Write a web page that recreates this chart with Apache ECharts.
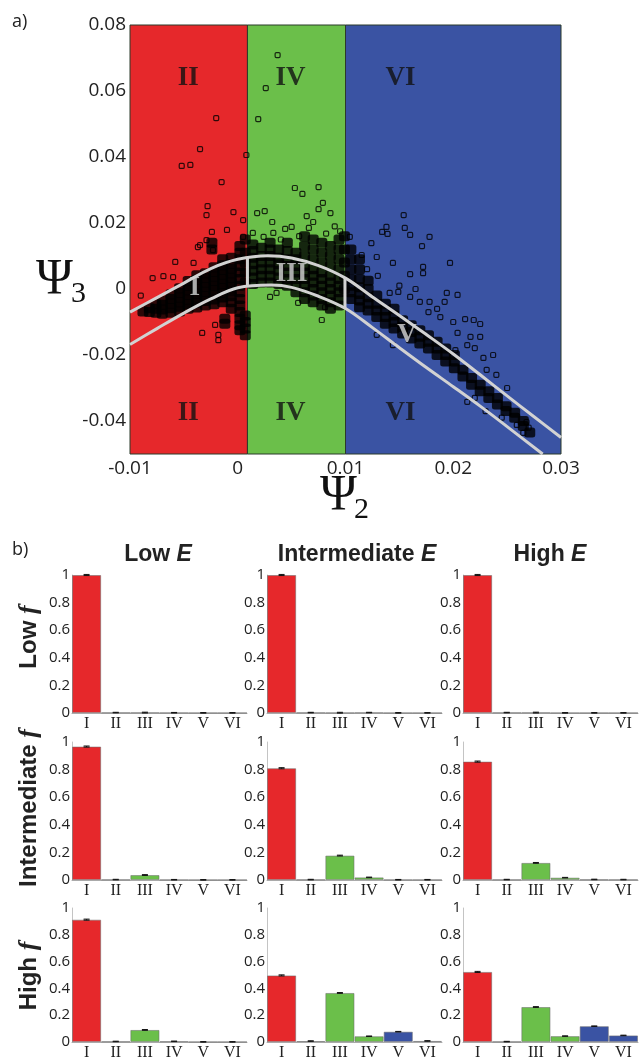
<!DOCTYPE html>
<html>
<head>
<meta charset="utf-8">
<script src="https://cdn.jsdelivr.net/npm/echarts@6/dist/echarts.min.js"></script>
<style>
html, body { margin: 0; padding: 0; background: #fff; }
#main { width: 639px; height: 1061px; }
</style>
</head>
<body>
<div id="main"></div>
<script>
// ---------- panel a) data ----------
const regionSpans = [[-0.01, 0.0009], [0.0009, 0.01], [0.01, 0.03]];

const upperCurve = [[-0.01,-0.0070],[-0.0075,-0.0026],[-0.005,0.0018],[-0.0025,0.0062],[0,0.0090],
  [0.0028,0.0101],[0.005,0.0094],[0.0075,0.0071],[0.01,0.0033],[0.0125,-0.0024],[0.015,-0.0080],
  [0.0175,-0.0138],[0.02,-0.0197],[0.0225,-0.0260],[0.025,-0.0324],[0.0275,-0.0387],[0.03,-0.0450]];
const lowerCurve = [[-0.01,-0.0168],[-0.0075,-0.0120],[-0.005,-0.0073],[-0.0025,-0.0030],[0,0.0004],
  [0.0031,0.0012],[0.005,0.0005],[0.0075,-0.0022],[0.01,-0.0059],[0.0125,-0.0117],[0.015,-0.0178],
  [0.0175,-0.0238],[0.02,-0.0296],[0.0225,-0.0355],[0.025,-0.0417],[0.0283,-0.0500]];
const dividerI_III = [[0.0009,0.0008],[0.0009,0.0095]];
const dividerIII_V = [[0.00995,-0.0058],[0.00995,0.0034]];

// dense cloud, read column by column: [psi2, [psi3 values]]
const coreColumns = [
  [-0.0088, [-0.0068]],
  [-0.0082, [-0.0070,-0.0058]],
  [-0.0076, [-0.0072,-0.0060,-0.0046]],
  [-0.0070, [-0.0075,-0.0062,-0.0048,-0.0035]],
  [-0.0062, [-0.0072,-0.0058,-0.0044,-0.0030,-0.0016]],
  [-0.0054, [-0.0068,-0.0054,-0.0040,-0.0026,-0.0012,0.0002]],
  [-0.0046, [-0.0060,-0.0046,-0.0032,-0.0018,-0.0004,0.0010,0.0024]],
  [-0.0038, [-0.0056,-0.0042,-0.0028,-0.0014,0.0000,0.0014,0.0028,0.0042]],
  [-0.0030, [-0.0050,-0.0036,-0.0022,-0.0008,0.0006,0.0020,0.0034,0.0048]],
  [-0.0022, [-0.0046,-0.0032,-0.0018,-0.0004,0.0010,0.0024,0.0038,0.0052,0.0066]],
  [-0.0014, [-0.0040,-0.0026,-0.0012,0.0002,0.0016,0.0030,0.0044,0.0058,0.0072,0.0090]],
  [-0.0006, [-0.0060,-0.0040,-0.0022,-0.0008,0.0006,0.0020,0.0034,0.0048,0.0062,0.0076,0.0095]],
  [0.0002, [-0.0125,-0.0110,-0.0090,-0.0070,-0.0050,-0.0030,-0.0010,0.0010,0.0030,0.0050,0.0070,0.0090,0.0110,0.0130]],
  [0.0007, [-0.0140,-0.0120,-0.0100,-0.0080,0.0020,0.0050,0.0080,0.0110,0.0150]],
  [-0.0012, [-0.0105,-0.0090]],
  [-0.0024, [0.0120,0.0140]],
  [0.0014, [0.0015,0.0035,0.0055,0.0075,0.0095,0.0115,0.0135]],
  [0.0022, [0.0020,0.0040,0.0060,0.0080,0.0100,0.0125]],
  [0.0030, [0.0020,0.0040,0.0060,0.0080,0.0100,0.0120,0.0140]],
  [0.0038, [0.0015,0.0035,0.0055,0.0075,0.0095,0.0120]],
  [0.0046, [0.0010,0.0030,0.0050,0.0070,0.0090,0.0115,0.0140]],
  [0.0054, [-0.0010,0.0010,0.0030,0.0050,0.0070,0.0090,0.0110]],
  [0.0062, [-0.0030,-0.0010,0.0010,0.0030,0.0050,0.0070,0.0100,0.0130,0.0160]],
  [0.0070, [-0.0040,-0.0020,0.0000,0.0020,0.0040,0.0060,0.0090,0.0120,0.0150]],
  [0.0078, [-0.0050,-0.0030,-0.0010,0.0010,0.0030,0.0050,0.0080,0.0110,0.0140]],
  [0.0086, [-0.0060,-0.0040,-0.0020,0.0000,0.0020,0.0040,0.0070,0.0100,0.0130]],
  [0.0094, [-0.0050,-0.0030,-0.0010,0.0010,0.0030,0.0060,0.0090,0.0120,0.0150]],
  [0.0099, [0.0000,0.0040,0.0080,0.0120,0.0160]],
  [0.0105, [-0.0030,-0.0010,0.0010,0.0030,0.0060,0.0090,0.0120]],
  [0.0113, [-0.0055,-0.0035,-0.0015,0.0005,0.0030,0.0060,0.0090]],
  [0.0121, [-0.0065,-0.0045,-0.0025,0.0000,0.0025]],
  [0.0129, [-0.0085,-0.0065,-0.0045,-0.0020]],
  [0.0137, [-0.0105,-0.0085,-0.0065,-0.0045]],
  [0.0145, [-0.0120,-0.0100,-0.0080,-0.0060]],
  [0.0153, [-0.0135,-0.0115,-0.0095]],
  [0.0161, [-0.0150,-0.0130,-0.0110]],
  [0.0169, [-0.0165,-0.0145,-0.0125]],
  [0.0177, [-0.0180,-0.0160,-0.0140]],
  [0.0185, [-0.0200,-0.0180,-0.0160]],
  [0.0193, [-0.0220,-0.0200,-0.0180]],
  [0.0201, [-0.0240,-0.0220,-0.0200]],
  [0.0209, [-0.0265,-0.0245]],
  [0.0217, [-0.0290,-0.0270]],
  [0.0225, [-0.0310,-0.0290]],
  [0.0233, [-0.0330,-0.0310]],
  [0.0241, [-0.0350,-0.0330]],
  [0.0249, [-0.0370,-0.0355]],
  [0.0257, [-0.0390,-0.0375]],
  [0.0265, [-0.0415,-0.0400]],
  [0.0271, [-0.0435]]
];

// isolated points (hollow markers)
const sparsePoints = [
  [-0.0020,0.0518],[-0.0035,0.0424],[-0.0052,0.0373],[-0.0044,0.0376],[-0.0015,0.0324],[0.0008,0.0406],
  [-0.0028,0.0251],[-0.0029,0.0224],[-0.0004,0.0233],[-0.0024,0.0173],[-0.0010,0.0179],[-0.0037,0.0127],
  [-0.0029,0.0148],[-0.0023,0.0118],[-0.0058,0.0082],[-0.0041,0.0079],[-0.0069,0.0039],[-0.0060,0.0036],
  [-0.0079,0.0033],[-0.0035,0.0133],[0.0005,0.0209],[0.0005,0.0158],[-0.0033,-0.0133],[-0.0018,-0.0139],
  [-0.0018,-0.0155],[-0.0021,-0.0109],[-0.0090,-0.0020],
  [0.0037,0.0709],[0.0026,0.0609],[0.0019,0.0515],[0.0053,0.0306],[0.0060,0.0288],[0.0075,0.0309],
  [0.0079,0.0261],[0.0075,0.0242],[0.0086,0.0230],[0.0064,0.0221],[0.0050,0.0188],[0.0070,0.0203],
  [0.0025,0.0236],[0.0018,0.0230],[0.0032,0.0203],[0.0014,0.0170],[0.0033,0.0170],[0.0024,0.0158],
  [0.0044,0.0182],[0.0090,0.0190],[0.0095,0.0175],[0.0082,0.0168],[0.0057,0.0160],[0.0040,0.0150],
  [0.0066,0.0185],[0.0030,-0.0024],[0.0036,-0.0012],[0.0056,-0.0042],[0.0078,-0.0094],[0.0081,-0.0055],
  [0.0154,0.0224],[0.0138,0.0188],[0.0155,0.0185],[0.0134,0.0173],[0.0139,0.0167],[0.0160,0.0164],
  [0.0178,0.0158],[0.0171,0.0130],[0.0197,0.0079],[0.0172,0.0067],[0.0172,0.0048],[0.0160,0.0045],
  [0.0124,0.0139],[0.0115,0.0103],[0.0129,0.0097],[0.0144,0.0079],[0.0204,-0.0018],[0.0194,-0.0012],
  [0.0104,0.0158],[0.0141,-0.0012],[0.0149,-0.0009],[0.0160,-0.0024],[0.0169,-0.0039],[0.0178,-0.0039],
  [0.0192,-0.0039],[0.0177,-0.0070],[0.0188,-0.0085],[0.0211,-0.0091],[0.0219,-0.0094],[0.0225,-0.0106],
  [0.0204,-0.0133],[0.0216,-0.0145],[0.0225,-0.0145],[0.0213,-0.0170],[0.0220,-0.0179],[0.0228,-0.0209],
  [0.0237,-0.0200],[0.0231,-0.0245],[0.0213,-0.0342],[0.0202,-0.0185],[0.0144,-0.0170],[0.0129,-0.0139],
  [0.0259,-0.0412],[0.0268,-0.0403],[0.0265,-0.0436],[0.0130,0.0040],[0.0120,0.0060],[0.0150,0.0010],
  [0.0165,0.0000],[0.0185,-0.0060],[0.0200,-0.0100],[0.0240,-0.0260],[0.0250,-0.0300],[0.0245,-0.0390],
  [0.0230,-0.0370],[0.0270,-0.0420],[0.0220,-0.0330]
];

const outerRegionLabels = [['II',-0.0046,0.0639],['IV',0.0049,0.0639],['VI',0.0151,0.0639],
  ['II',-0.0046,-0.0376],['IV',0.0049,-0.0376],['VI',0.0151,-0.0376]];
const bandRegionLabels = [['I',-0.0040,0.0003],['III',0.0050,0.0045],['V',0.0157,-0.0139]];

// ---------- panel b) data ----------
const regions = ['I', 'II', 'III', 'IV', 'V', 'VI'];
const levels = ['Low', 'Intermediate', 'High'];
// rows: f level, columns: E level
const barLowF_LowE   = [1.000, 0.003, 0.003, 0.002, 0.001, 0.001];
const barLowF_IntE   = [1.000, 0.003, 0.002, 0.003, 0.001, 0.001];
const barLowF_HighE  = [1.000, 0.003, 0.003, 0.001, 0.001, 0.001];
const barIntF_LowE   = [0.967, 0.003, 0.036, 0.002, 0.001, 0.001];
const barIntF_IntE   = [0.810, 0.003, 0.177, 0.019, 0.002, 0.002];
const barIntF_HighE  = [0.858, 0.003, 0.124, 0.017, 0.004, 0.003];
const barHighF_LowE  = [0.913, 0.004, 0.090, 0.005, 0.001, 0.001];
const barHighF_IntE  = [0.497, 0.007, 0.366, 0.043, 0.077, 0.008];
const barHighF_HighE = [0.523, 0.003, 0.261, 0.044, 0.118, 0.049];
const barErrors      = [0.004, 0.002, 0.003, 0.002, 0.002, 0.002];

const panels = [
  [barLowF_LowE, barLowF_IntE, barLowF_HighE],
  [barIntF_LowE, barIntF_IntE, barIntF_HighE],
  [barHighF_LowE, barHighF_IntE, barHighF_HighE]
];

// ---------- styles ----------
const RED = '#e6282b', GREEN = '#6bbf4a', BLUE = '#3a53a3';
const regionFill = [RED, GREEN, BLUE];
const barColors = [RED, RED, GREEN, GREEN, BLUE, BLUE];
const TICK_FONT = '"Open Sans", "Liberation Sans", sans-serif';
const SERIF = '"Liberation Serif", "DejaVu Serif", serif';
const SANS = '"Liberation Sans", Arial, sans-serif';

const chart = echarts.init(document.getElementById('main'));

const grids = [{ left: 130, top: 25, width: 431, height: 429 }];
const xAxes = [{
  gridIndex: 0, type: 'value', min: -0.01, max: 0.03, interval: 0.01,
  axisLine: { show: false }, axisTick: { show: false }, splitLine: { show: false },
  axisLabel: { fontFamily: TICK_FONT, fontSize: 19, color: '#222', margin: 5,
    formatter: v => String(Math.round(v * 100) / 100) }
}];
const yAxes = [{
  gridIndex: 0, type: 'value', min: -0.05, max: 0.08, interval: 0.01,
  axisLine: { show: false }, axisTick: { show: false }, splitLine: { show: false },
  axisLabel: { fontFamily: TICK_FONT, fontSize: 19, color: '#222', margin: 4,
    formatter: v => { const k = Math.round(v * 100); return k % 2 === 0 ? String(k / 100) : ''; } }
}];

const series = [
  {
    type: 'custom', xAxisIndex: 0, yAxisIndex: 0, z: 1, clip: false,
    data: regionSpans.map((s, i) => [s[0], s[1], i]),
    renderItem: (params, api) => {
      const p0 = api.coord([api.value(0), 0.08]);
      const p1 = api.coord([api.value(1), -0.05]);
      return {
        type: 'rect',
        shape: { x: p0[0], y: p0[1], width: p1[0] - p0[0], height: p1[1] - p0[1] },
        style: { fill: regionFill[api.value(2)], stroke: '#2b3a2b', lineWidth: 1 }
      };
    }
  },
  {
    type: 'scatter', xAxisIndex: 0, yAxisIndex: 0, z: 2,
    symbol: 'roundRect', symbolSize: [11, 10],
    itemStyle: { color: '#000' },
    data: coreColumns.flatMap(c => c[1].map(y => [c[0], y]))
  },
  {
    type: 'scatter', xAxisIndex: 0, yAxisIndex: 0, z: 3,
    symbol: 'roundRect', symbolSize: 5,
    itemStyle: { color: 'rgba(0,0,0,0)', borderColor: '#000', borderWidth: 1.2 },
    data: sparsePoints
  },
  ...[upperCurve, lowerCurve, dividerI_III, dividerIII_V].map(d => ({
    type: 'line', xAxisIndex: 0, yAxisIndex: 0, z: 4, smooth: 0.35,
    symbol: 'none', lineStyle: { color: '#d2d2d2', width: 3 }, data: d
  })),
  {
    type: 'scatter', xAxisIndex: 0, yAxisIndex: 0, z: 5, symbolSize: 0,
    data: outerRegionLabels.map(l => ({ name: l[0], value: [l[1], l[2]] })),
    label: { show: true, position: 'inside', formatter: '{b}', fontFamily: SERIF,
      fontWeight: 'bold', fontSize: 27, color: '#111' }
  },
  {
    type: 'scatter', xAxisIndex: 0, yAxisIndex: 0, z: 5, symbolSize: 0,
    data: bandRegionLabels.map(l => ({ name: l[0], value: [l[1], l[2]] })),
    label: { show: true, position: 'inside', formatter: '{b}', fontFamily: SERIF,
      fontWeight: 'bold', fontSize: 27, color: '#d6d6d6' }
  }
];

const colLeft = [72, 267, 463];
const rowTop = [575, 742, 908];
panels.forEach((row, r) => {
  row.forEach((vals, c) => {
    const k = grids.length;
    grids.push({ left: colLeft[c], top: rowTop[r], width: 175, height: 138 });
    xAxes.push({
      gridIndex: k, type: 'category', data: regions,
      axisLine: { show: true, lineStyle: { color: '#aaa', width: 1 } },
      axisTick: { show: false },
      axisLabel: { interval: 0, fontFamily: SERIF, fontSize: 16, color: '#222', margin: 3 }
    });
    yAxes.push({
      gridIndex: k, type: 'value', min: 0, max: 1, interval: 0.2,
      axisLine: { show: true, lineStyle: { color: '#c4c4c4', width: 1 } },
      axisTick: { show: false }, splitLine: { show: false },
      axisLabel: { fontFamily: TICK_FONT, fontSize: 15, color: '#222', margin: 2,
        formatter: v => String(Math.round(v * 10) / 10) }
    });
    series.push({
      type: 'bar', xAxisIndex: k, yAxisIndex: k, barCategoryGap: '0%', z: 2,
      data: vals.map((v, i) => ({ value: v, itemStyle: { color: barColors[i] } })),
      itemStyle: { borderColor: 'rgba(110,110,110,0.55)', borderWidth: 1 }
    });
    series.push({
      type: 'custom', xAxisIndex: k, yAxisIndex: k, z: 3, clip: false,
      data: vals.map((v, i) => [i, v, barErrors[i]]),
      renderItem: (params, api) => {
        const hi = api.coord([api.value(0), api.value(1) + api.value(2)]);
        const lo = api.coord([api.value(0), api.value(1) - api.value(2)]);
        const w = 3;
        const st = { stroke: '#111', lineWidth: 1 };
        return { type: 'group', children: [
          { type: 'line', shape: { x1: hi[0], y1: hi[1], x2: lo[0], y2: lo[1] }, style: st },
          { type: 'line', shape: { x1: hi[0] - w, y1: hi[1], x2: hi[0] + w, y2: hi[1] }, style: st },
          { type: 'line', shape: { x1: lo[0] - w, y1: lo[1], x2: lo[0] + w, y2: lo[1] }, style: st }
        ] };
      }
    });
  });
});

const colCenters = [158, 357, 550];
const rowCenters = [637, 808, 976];
const graphics = [
  { type: 'text', x: 12, y: 22, style: { text: 'a)', font: '18px ' + TICK_FONT, fill: '#222', verticalAlign: 'middle' } },
  { type: 'text', x: 12, y: 550, style: { text: 'b)', font: '18px ' + TICK_FONT, fill: '#222', verticalAlign: 'middle' } },
  { type: 'text', x: 36, y: 280, style: { text: 'Ψ', font: '50px ' + SERIF, fill: '#111', verticalAlign: 'middle' } },
  { type: 'text', x: 71, y: 294, style: { text: '3', font: '30px ' + SERIF, fill: '#111', verticalAlign: 'middle' } },
  { type: 'text', x: 320, y: 496, style: { text: 'Ψ', font: '50px ' + SERIF, fill: '#111', verticalAlign: 'middle' } },
  { type: 'text', x: 354, y: 510, style: { text: '2', font: '30px ' + SERIF, fill: '#111', verticalAlign: 'middle' } }
];
levels.forEach((lv, i) => {
  graphics.push({
    type: 'text', x: colCenters[i], y: 555,
    style: {
      text: '{b|' + lv + ' }{i|E}', align: 'center', verticalAlign: 'middle',
      rich: {
        b: { fontFamily: SANS, fontWeight: 'bold', fontSize: 23, fill: '#222', color: '#222' },
        i: { fontFamily: SANS, fontWeight: 'bold', fontStyle: 'italic', fontSize: 23, fill: '#222', color: '#222' }
      }
    }
  });
  graphics.push({
    type: 'text', x: 29, y: rowCenters[i], rotation: Math.PI / 2,
    style: {
      text: '{b|' + lv + ' }{i|f}', align: 'center', verticalAlign: 'middle',
      rich: {
        b: { fontFamily: SANS, fontWeight: 'bold', fontSize: 24, fill: '#222', color: '#222' },
        i: { fontFamily: SERIF, fontWeight: 'bold', fontStyle: 'italic', fontSize: 26, fill: '#222', color: '#222' }
      }
    }
  });
});

chart.setOption({
  animation: false,
  backgroundColor: '#fff',
  grid: grids,
  xAxis: xAxes,
  yAxis: yAxes,
  series: series,
  graphic: graphics
});
</script>
</body>
</html>
